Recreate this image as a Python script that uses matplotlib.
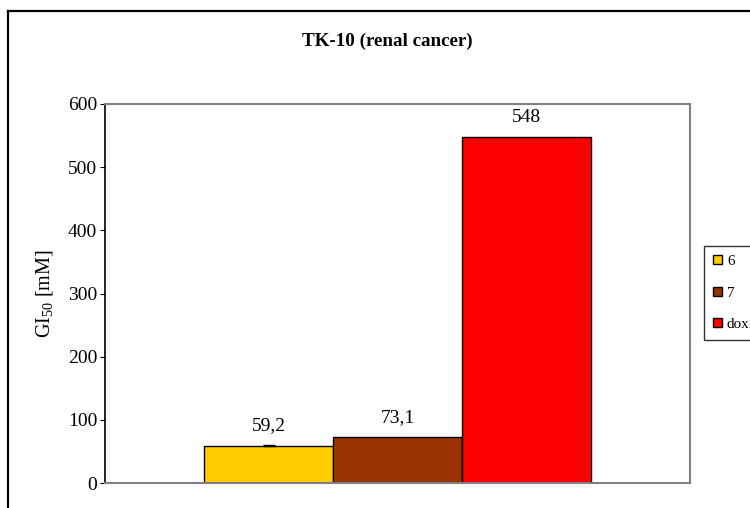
import matplotlib
matplotlib.use("Agg")
import matplotlib.pyplot as plt
from matplotlib.lines import Line2D
from matplotlib.patches import Patch

# Dati GI50 per la linea TK-10
composti = ["6", "7", "dox"]
gi50 = [59.2, 73.1, 548]
errori = [1.0, 0.0, 0.0]
colori = ["#FFCC00", "#993300", "#FF0000"]

plt.rcParams["font.family"] = ["Liberation Serif", "DejaVu Serif"]
plt.rcParams["mathtext.fontset"] = "custom"
plt.rcParams["mathtext.rm"] = "Liberation Serif"
plt.rcParams["mathtext.default"] = "rm"

fig = plt.figure(figsize=(7.5, 5.08), dpi=100)
W, H = 750, 508

# Cornice esterna del grafico
fig.add_artist(Line2D([8 / W, 8 / W], [0, 1 - 11 / H], color="black", lw=1.6,
                      transform=fig.transFigure))
fig.add_artist(Line2D([8 / W, 1], [1 - 11 / H, 1 - 11 / H], color="black", lw=1.6,
                      transform=fig.transFigure))

ax = fig.add_axes([105 / W, 1 - 483 / H, (690 - 105) / W, (483 - 104) / H])

larghezza = 0.22
posizioni = [(i - 1) * larghezza for i in range(len(composti))]
for x, v, e, c in zip(posizioni, gi50, errori, colori):
    ax.bar(x, v, width=larghezza, color=c, edgecolor="black", linewidth=1.0, zorder=2)
    if e > 0:
        ax.errorbar(x, v, yerr=e, fmt="none", ecolor="black", elinewidth=1,
                    capsize=4, capthick=1, zorder=3)
    ax.annotate(f"{v:g}".replace(".", ","), (x, v), xytext=(0, 8),
                textcoords="offset points", ha="center", va="bottom", fontsize=14)

ax.set_xlim(-0.5, 0.5)
ax.set_ylim(0, 600)
ax.set_yticks(range(0, 601, 100))
ax.set_xticks([])
ax.tick_params(axis="y", direction="out", length=3.5, labelsize=14, pad=2)

for lato in ["top", "right", "bottom"]:
    ax.spines[lato].set_color("#808080")
    ax.spines[lato].set_linewidth(1.5)
ax.spines["left"].set_color("black")
ax.spines["left"].set_linewidth(1.2)

ax.set_ylabel("GI$_{50}$ [mM]", fontsize=14.5, labelpad=9)

fig.text(387 / W, 1 - 41 / H, "TK-10 (renal cancer)", ha="center", va="center",
         fontsize=13.7, fontweight="bold")

# Legenda a destra, attaccata al bordo della figura
maniglie = [Patch(facecolor=c, edgecolor="black", linewidth=1.0) for c in colori]
leg = fig.legend(maniglie, composti, loc="upper left",
                 bbox_to_anchor=(704 / W, 1 - 246 / H), fontsize=11,
                 frameon=True, fancybox=False, edgecolor="black",
                 handlelength=0.55, handleheight=0.55, handletextpad=0.35,
                 labelspacing=1.2, borderpad=0.6, borderaxespad=0)
leg.get_frame().set_linewidth(1.0)

fig.savefig("out.png", dpi=100)
